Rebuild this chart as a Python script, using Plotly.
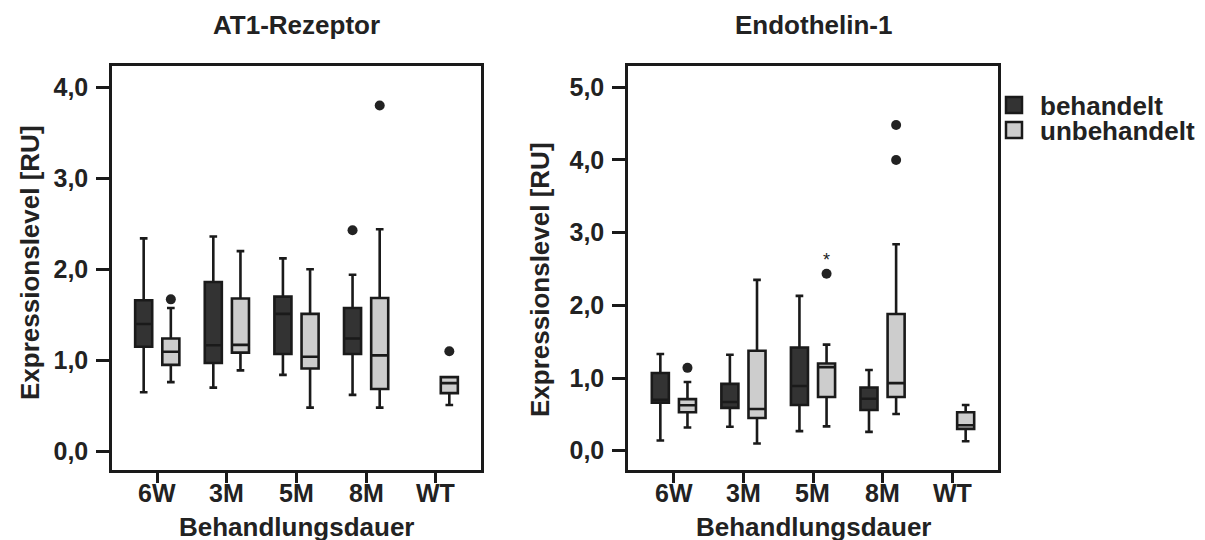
import plotly.graph_objects as go

categories = ["6W", "3M", "5M", "8M", "WT"]
group_names = ["behandelt", "unbehandelt"]

# ---- AT1-Rezeptor (per category; None = no box) ----
at1_beh_lower = [0.65, 0.70, 0.84, 0.62, None]
at1_beh_q1 = [1.15, 0.97, 1.07, 1.07, None]
at1_beh_median = [1.40, 1.165, 1.51, 1.24, None]
at1_beh_q3 = [1.66, 1.86, 1.70, 1.575, None]
at1_beh_upper = [2.34, 2.36, 2.12, 1.94, None]
at1_beh_outliers = [[], [], [], [2.43], []]

at1_unb_lower = [0.76, 0.89, 0.48, 0.48, 0.51]
at1_unb_q1 = [0.95, 1.085, 0.91, 0.685, 0.64]
at1_unb_median = [1.095, 1.17, 1.04, 1.055, 0.75]
at1_unb_q3 = [1.24, 1.68, 1.51, 1.685, 0.815]
at1_unb_upper = [1.575, 2.20, 2.00, 2.44, 0.815]
at1_unb_outliers = [[1.67], [], [], [3.80], [1.10]]

# ---- Endothelin-1 ----
et1_beh_lower = [0.14, 0.33, 0.27, 0.26, None]
et1_beh_q1 = [0.66, 0.59, 0.63, 0.56, None]
et1_beh_median = [0.70, 0.67, 0.89, 0.715, None]
et1_beh_q3 = [1.07, 0.92, 1.42, 0.87, None]
et1_beh_upper = [1.33, 1.32, 2.13, 1.11, None]
et1_beh_outliers = [[], [], [], [], []]

et1_unb_lower = [0.32, 0.10, 0.335, 0.505, 0.13]
et1_unb_q1 = [0.53, 0.45, 0.74, 0.74, 0.30]
et1_unb_median = [0.625, 0.575, 1.15, 0.93, 0.35]
et1_unb_q3 = [0.71, 1.375, 1.20, 1.88, 0.53]
et1_unb_upper = [0.945, 2.35, 1.46, 2.84, 0.63]
et1_unb_outliers = [[1.14], [], [2.435], [4.00, 4.48], []]
et1_extreme_labels = [("5M", 2.60)]

y_ticks_at1 = [0.0, 1.0, 2.0, 3.0, 4.0]
y_ticks_et1 = [0.0, 1.0, 2.0, 3.0, 4.0, 5.0]

panel_titles = ["AT1-Rezeptor", "Endothelin-1"]
x_title = "Behandlungsdauer"
y_title = "Expressionslevel [RU]"

# ---- styles ----
DARK = "#333333"
LIGHT = "#cdcdcd"
EDGE = "#1a1a1a"
TXT = "#222222"
FONT = "Liberation Sans"
OFFSETS = [-0.195, 0.195]
BOXW = 0.245
FILLS = [DARK, LIGHT]
LEGENDS = ["legend", "legend2"]

fig = go.Figure()


def add_group(xaxis, yaxis, lower, q1, med, q3, upper, outl, gi):
    xs, L, Q1, M, Q3, U = [], [], [], [], [], []
    ox, oy = [], []
    for i, c in enumerate(categories):
        if med[i] is None:
            continue
        x = i + OFFSETS[gi]
        xs.append(x)
        L.append(lower[i]); Q1.append(q1[i]); M.append(med[i]); Q3.append(q3[i]); U.append(upper[i])
        for v in outl[i]:
            ox.append(x); oy.append(v)
    fig.add_trace(go.Box(
        x=xs, lowerfence=L, q1=Q1, median=M, q3=Q3, upperfence=U,
        width=BOXW, whiskerwidth=0.45, fillcolor=FILLS[gi],
        line=dict(color=EDGE, width=2.6), name=group_names[gi],
        legendgroup=group_names[gi], showlegend=False,
        xaxis=xaxis, yaxis=yaxis, boxpoints=False, hoverinfo="skip",
    ))
    if ox:
        fig.add_trace(go.Scatter(
            x=ox, y=oy, mode="markers", marker=dict(color=TXT, size=10),
            showlegend=False, xaxis=xaxis, yaxis=yaxis, hoverinfo="skip",
        ))


add_group("x", "y", at1_beh_lower, at1_beh_q1, at1_beh_median, at1_beh_q3, at1_beh_upper, at1_beh_outliers, 0)
add_group("x", "y", at1_unb_lower, at1_unb_q1, at1_unb_median, at1_unb_q3, at1_unb_upper, at1_unb_outliers, 1)
add_group("x2", "y2", et1_beh_lower, et1_beh_q1, et1_beh_median, et1_beh_q3, et1_beh_upper, et1_beh_outliers, 0)
add_group("x2", "y2", et1_unb_lower, et1_unb_q1, et1_unb_median, et1_unb_q3, et1_unb_upper, et1_unb_outliers, 1)

# legend entries (square swatches)
for gi, g in enumerate(group_names):
    fig.add_trace(go.Scatter(
        x=[None], y=[None], mode="markers", name=g, legendgroup=g,
        marker=dict(symbol="square", size=17, color=FILLS[gi], line=dict(color=EDGE, width=2.5)),
        showlegend=True, legend=LEGENDS[gi], xaxis="x", yaxis="y",
    ))

fig.add_trace(go.Scatter(
    x=[categories.index(c) + OFFSETS[1] for c, _ in et1_extreme_labels],
    y=[v for _, v in et1_extreme_labels],
    mode="text", text=["*"] * len(et1_extreme_labels),
    textfont=dict(family=FONT, size=18, color=TXT),
    showlegend=False, xaxis="x2", yaxis="y2", hoverinfo="skip",
))

tickfont = dict(family=FONT, size=25, color=TXT, weight="bold")

common_x = dict(
    tickmode="array", tickvals=list(range(len(categories))), showticklabels=False,
    showline=True, linecolor=EDGE, linewidth=2.5, mirror=True,
    ticks="outside", ticklen=10, tickwidth=2.5, tickcolor=EDGE,
    showgrid=False, zeroline=False, fixedrange=True,
)
common_y = dict(
    showline=True, linecolor=EDGE, linewidth=2.5, mirror=True,
    ticks="outside", ticklen=13, tickwidth=2.5, tickcolor=EDGE,
    tickfont=tickfont, showgrid=False, zeroline=False, tickformat=".1f",
    ticklabelstandoff=3,
)

y0, y1 = (540 - 462) / 540, (540 - 58) / 540


def py(px):
    return (540 - px) / 540


annotations = []
# panel titles
for t, cx in zip(panel_titles, [288, 805]):
    annotations.append(dict(text=t, x=cx / 1205, y=py(17), xref="paper", yref="paper",
                            showarrow=False, xanchor="center", yanchor="middle",
                            font=dict(family=FONT, size=26, color=TXT, weight="bold")))
# x tick labels (category names) placed via the x axes
for xr in ["x", "x2"]:
    for i, c in enumerate(categories):
        annotations.append(dict(text=c, x=i, y=py(485), xref=xr, yref="paper",
                                showarrow=False, xanchor="center", yanchor="middle",
                                font=tickfont))
# x axis titles
for cx in [288, 805]:
    annotations.append(dict(text=x_title, x=cx / 1205, y=py(519), xref="paper", yref="paper",
                            showarrow=False, xanchor="center", yanchor="middle",
                            font=dict(family=FONT, size=26, color=TXT, weight="bold")))
# y axis titles
for cx, cy in [(22, 255), (532, 272)]:
    annotations.append(dict(text=y_title, x=cx / 1205, y=py(cy), xref="paper", yref="paper",
                            showarrow=False, xanchor="center", yanchor="middle", textangle=-90,
                            font=dict(family=FONT, size=26, color=TXT, weight="bold")))

legend_common = dict(xanchor="left", yanchor="middle",
                     font=dict(family=FONT, size=26, color=TXT, weight="bold"),
                     itemwidth=42, bgcolor="rgba(0,0,0,0)", borderwidth=0)

fig.update_layout(
    width=1205, height=540,
    margin=dict(l=0, r=0, t=0, b=0),
    paper_bgcolor="white", plot_bgcolor="white",
    separators=",.",
    showlegend=True,
    legend=dict(x=980 / 1205, y=py(97), **legend_common),
    legend2=dict(x=980 / 1205, y=py(122), **legend_common),
    xaxis=dict(domain=[104 / 1205, 473 / 1205], range=[-0.65, 4.65], anchor="y", **common_x),
    yaxis=dict(domain=[y0, y1], range=[-0.205, 4.234], anchor="x",
               tickvals=y_ticks_at1, **common_y),
    xaxis2=dict(domain=[620 / 1205, 990 / 1205], range=[-0.66, 4.66], anchor="y2", **common_x),
    yaxis2=dict(domain=[y0, y1], range=[-0.265, 5.292], anchor="x2",
                tickvals=y_ticks_et1, **common_y),
    annotations=annotations,
)

fig.write_html("out.html")
